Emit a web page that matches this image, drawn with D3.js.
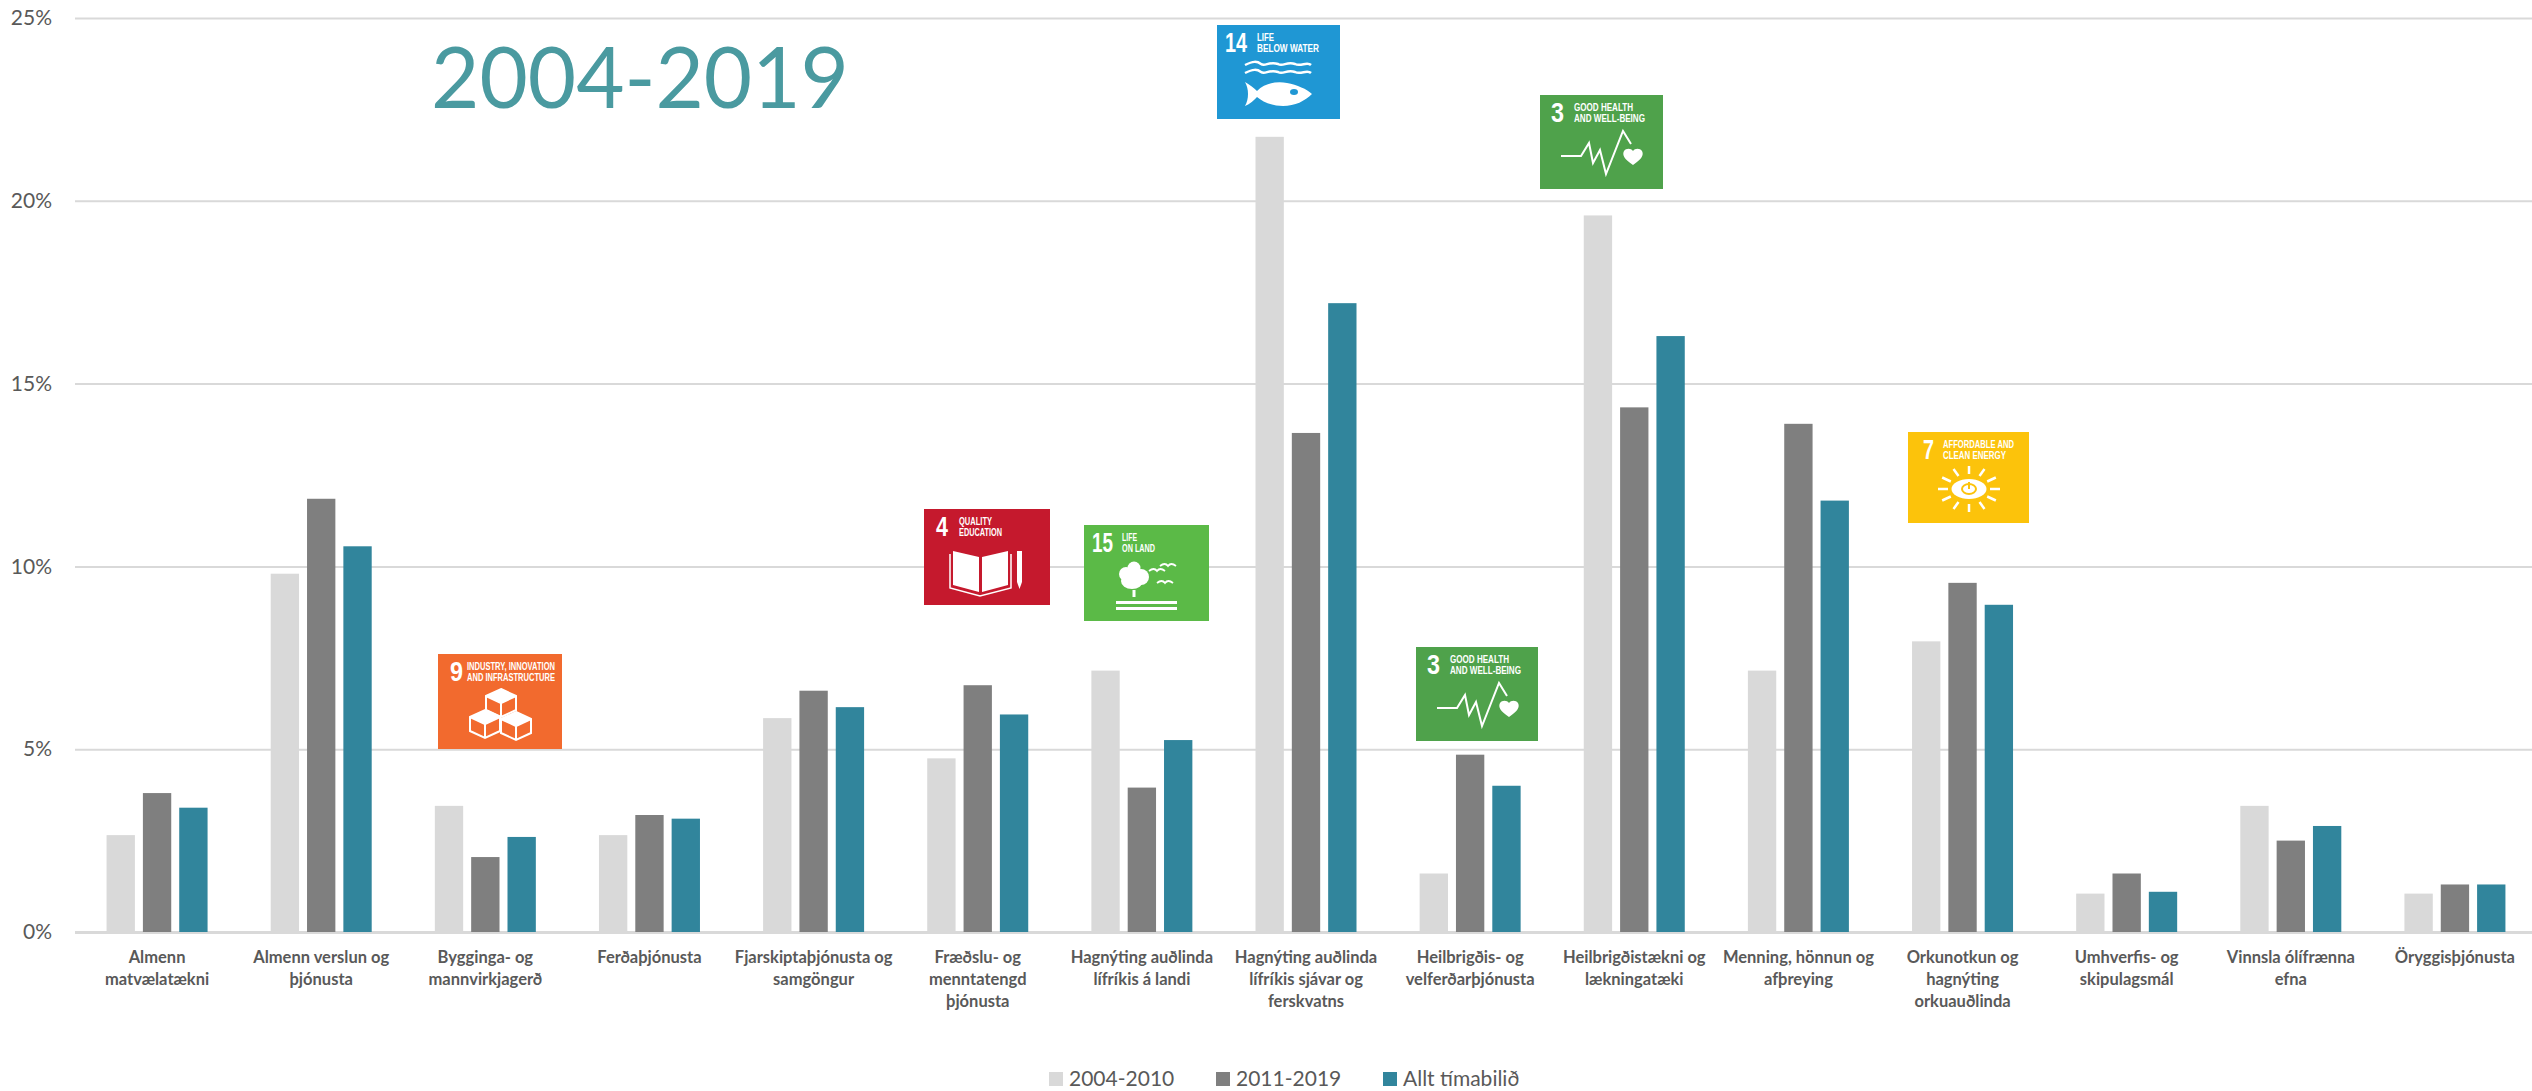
<!DOCTYPE html>
<html>
<head>
<meta charset="utf-8">
<script src="https://cdnjs.cloudflare.com/ajax/libs/d3/7.8.5/d3.min.js"></script>
<style>
  body { margin: 0; background: #fff; overflow: hidden; }
  text { font-family: Lato, sans-serif; }
  .badge text { font-family: "Liberation Sans", sans-serif; font-weight: 700; fill: #fff; }
</style>
</head>
<body>
<div id="chart"></div>
<script>
// chart data
var categories = [
  "Almenn\nmatvælatækni",
  "Almenn verslun og\nþjónusta",
  "Bygginga- og\nmannvirkjagerð",
  "Ferðaþjónusta",
  "Fjarskiptaþjónusta og\nsamgöngur",
  "Fræðslu- og\nmenntatengd\nþjónusta",
  "Hagnýting auðlinda\nlífríkis á landi",
  "Hagnýting auðlinda\nlífríkis sjávar og\nferskvatns",
  "Heilbrigðis- og\nvelferðarþjónusta",
  "Heilbrigðistækni og\nlækningatæki",
  "Menning, hönnun og\nafþreying",
  "Orkunotkun og\nhagnýting\norkuauðlinda",
  "Umhverfis- og\nskipulagsmál",
  "Vinnsla ólífrænna\nefna",
  "Öryggisþjónusta"
];
var seriesNames = ["2004-2010", "2011-2019", "Allt tímabilið"];
var values2004 = [2.65, 9.8, 3.45, 2.65, 5.85, 4.75, 7.15, 21.75, 1.6, 19.6, 7.15, 7.95, 1.05, 3.45, 1.05];
var values2011 = [3.8, 11.85, 2.05, 3.2, 6.6, 6.75, 3.95, 13.65, 4.85, 14.35, 13.9, 9.55, 1.6, 2.5, 1.3];
var valuesAll = [3.4, 10.55, 2.6, 3.1, 6.15, 5.95, 5.25, 17.2, 4.0, 16.3, 11.8, 8.95, 1.1, 2.9, 1.3];
var yTicks = [0, 5, 10, 15, 20, 25];
var chartTitle = "2004-2019";

var seriesValues = [values2004, values2011, valuesAll];
var seriesColors = ["#d9d9d9", "#7f7f7f", "#31859c"];

var svgWidth = 2532;
var svgHeight = 1091;
var chartMargin = { top: 18, right: -5, bottom: 159, left: 75 };
var chartWidth = svgWidth - chartMargin.left - chartMargin.right;
var chartHeight = svgHeight - chartMargin.top - chartMargin.bottom;

var svg = d3.select("#chart")
  .append("svg")
  .attr("width", svgWidth)
  .attr("height", svgHeight);

var chartGroup = svg.append("g")
  .attr("transform", `translate(${chartMargin.left}, ${chartMargin.top})`);

var xScale = d3.scaleBand().domain(categories).range([0, chartWidth]);
var xInner = d3.scaleBand().domain(seriesNames)
  .range([xScale.bandwidth() / 2 - 50.5, xScale.bandwidth() / 2 + 50.5])
  .paddingInner(0.22);
var yScale = d3.scaleLinear().domain([0, 25]).range([chartHeight, 0]);

// gridlines and y labels
var leftAxis = d3.axisLeft(yScale)
  .tickValues(yTicks)
  .tickSize(-chartWidth)
  .tickPadding(23)
  .tickFormat(d => d + "%");

var yAxisGroup = chartGroup.append("g").call(leftAxis);
yAxisGroup.select(".domain").remove();
yAxisGroup.selectAll("line")
  .attr("stroke", "#d9d9d9")
  .attr("stroke-width", d => d === 0 ? 3 : 2);
yAxisGroup.selectAll("text")
  .attr("font-size", 21)
  .attr("fill", "#595959")
  .style("font-family", "Lato, sans-serif");

// bars
var barGroups = chartGroup.selectAll(".group")
  .data(categories)
  .enter()
  .append("g")
  .attr("class", "group")
  .attr("transform", d => `translate(${xScale(d)}, 0)`);

barGroups.selectAll("rect")
  .data((d, i) => seriesNames.map((name, s) => ({ name: name, value: seriesValues[s][i], color: seriesColors[s] })))
  .enter()
  .append("rect")
  .attr("x", d => xInner(d.name))
  .attr("y", d => yScale(d.value))
  .attr("width", xInner.bandwidth())
  .attr("height", d => chartHeight - yScale(d.value))
  .attr("fill", d => d.color);

// category labels
var bottomAxis = d3.axisBottom(xScale).tickSize(0).tickFormat("");
var xAxisGroup = chartGroup.append("g")
  .attr("transform", `translate(0, ${chartHeight})`)
  .call(bottomAxis);
xAxisGroup.select(".domain").remove();
xAxisGroup.selectAll(".tick text").each(function(d) {
  var label = d3.select(this)
    .attr("y", 31)
    .attr("text-anchor", "middle")
    .attr("font-size", 16.5)
    .attr("font-weight", 700)
    .attr("fill", "#595959")
    .style("font-family", "Lato, sans-serif");
  d.split("\n").forEach(function(line, i) {
    label.append("tspan").attr("x", 0).attr("y", 31 + i * 22).attr("dy", 0).text(line);
  });
});

// title
svg.append("text")
  .attr("x", 431)
  .attr("y", 108)
  .attr("font-size", 86)
  .attr("fill", "#4a9aa0")
  .attr("textLength", 418)
  .attr("lengthAdjust", "spacingAndGlyphs")
  .text(chartTitle);

// legend
var legendX = [1049, 1216, 1383];
var legend = svg.selectAll(".legend")
  .data(seriesNames)
  .enter()
  .append("g")
  .attr("class", "legend")
  .attr("transform", (d, i) => `translate(${legendX[i]}, 1072)`);
legend.append("rect")
  .attr("width", 14)
  .attr("height", 14)
  .attr("fill", (d, i) => seriesColors[i]);
legend.append("text")
  .attr("x", 20)
  .attr("y", 14)
  .attr("font-size", 21)
  .attr("fill", "#595959")
  .text(d => d);

// SDG badges, drawn in a local box
function drawPulse(g) {
  g.append("path")
    .attr("d", "M21 61H41L49 48L53 68L60 55L66 79L83 36L91 49")
    .attr("fill", "none").attr("stroke", "#fff").attr("stroke-width", 2);
  g.append("path")
    .attr("d", "M93 70C84 64 82 60 84 56C86 53 91 53 93 56C95 53 100 53 102 56C104 60 102 64 93 70Z")
    .attr("fill", "#fff");
}
function drawFish(g) {
  g.append("path")
    .attr("d", "M28 40C36 36 40 36 44 39C48 42 52 36 61 39C66 42 70 36 78 39C84 42 90 36 94 40M28 48C36 44 40 44 44 47C48 50 52 44 61 47C66 50 70 44 78 47C84 50 90 44 94 48")
    .attr("fill", "none").attr("stroke", "#fff").attr("stroke-width", 2.5);
  g.append("path")
    .attr("d", "M28 57C33 60 37 63 40 66C48 58 60 56 70 58C80 60 90 64 95 69C88 76 78 81 66 81C55 81 46 77 40 72C37 75 33 79 28 81C32 74 32 64 28 57Z")
    .attr("fill", "#fff");
  g.append("ellipse").attr("cx", 77).attr("cy", 67).attr("rx", 4).attr("ry", 3).attr("fill", "#1f97d4");
}
function drawCubes(g) {
  [[63, 35], [47, 56], [78, 58]].forEach(function(c) {
    var x = c[0], y = c[1];
    g.append("path")
      .attr("d", `M${x} ${y}L${x + 15} ${y + 7}V${y + 21}L${x} ${y + 28}L${x - 15} ${y + 21}V${y + 7}ZM${x} ${y + 14}L${x + 15} ${y + 7}M${x} ${y + 14}L${x - 15} ${y + 7}M${x} ${y + 14}V${y + 28}`)
      .attr("fill", "none").attr("stroke", "#fff").attr("stroke-width", 2);
    g.append("path")
      .attr("d", `M${x} ${y}L${x + 15} ${y + 7}L${x} ${y + 14}L${x - 15} ${y + 7}Z`)
      .attr("fill", "#fff");
  });
}
function drawSun(g) {
  var cx = 61, cy = 57;
  d3.range(12).forEach(function(i) {
    var a = i * Math.PI / 6;
    g.append("line")
      .attr("x1", cx + 21 * Math.cos(a)).attr("y1", cy + 15 * Math.sin(a))
      .attr("x2", cx + 31 * Math.cos(a)).attr("y2", cy + 23 * Math.sin(a))
      .attr("stroke", "#fff").attr("stroke-width", 2.5);
  });
  g.append("ellipse").attr("cx", cx).attr("cy", cy).attr("rx", 17.5).attr("ry", 10).attr("fill", "#fff");
  g.append("ellipse").attr("cx", cx).attr("cy", cy).attr("rx", 7).attr("ry", 5).attr("fill", "none").attr("stroke", "#fcc30b").attr("stroke-width", 2);
  g.append("line").attr("x1", cx).attr("y1", cy - 7).attr("x2", cx).attr("y2", cy).attr("stroke", "#fcc30b").attr("stroke-width", 2);
}
function drawBook(g) {
  g.append("path")
    .attr("d", "M29 42L55 48V83L29 76ZM84 42L58 48V83L84 76Z")
    .attr("fill", "#fff");
  g.append("path")
    .attr("d", "M26 45V79L56 87L87 79V45")
    .attr("fill", "none").attr("stroke", "#fff").attr("stroke-width", 1.5);
  g.append("path").attr("d", "M93 42H98V73L95.5 80L93 73Z").attr("fill", "#fff");
}
function drawTree(g) {
  g.append("circle").attr("cx", 50).attr("cy", 43).attr("r", 6.5).attr("fill", "#fff");
  g.append("circle").attr("cx", 42).attr("cy", 49).attr("r", 7).attr("fill", "#fff");
  g.append("circle").attr("cx", 57).attr("cy", 52).attr("r", 8).attr("fill", "#fff");
  g.append("ellipse").attr("cx", 48).attr("cy", 56).attr("rx", 11).attr("ry", 8).attr("fill", "#fff");
  g.append("rect").attr("x", 48.5).attr("y", 65).attr("width", 3).attr("height", 7).attr("fill", "#fff");
  g.append("rect").attr("x", 32).attr("y", 76).attr("width", 61).attr("height", 3).attr("fill", "#fff");
  g.append("rect").attr("x", 32).attr("y", 82).attr("width", 61).attr("height", 3).attr("fill", "#fff");
  [[73, 45], [84, 40], [81, 57]].forEach(function(b) {
    g.append("path")
      .attr("d", `M${b[0] - 8} ${b[1] + 1}Q${b[0] - 3} ${b[1] - 3} ${b[0]} ${b[1] + 1}Q${b[0] + 3} ${b[1] - 3} ${b[0] + 8} ${b[1] + 1}`)
      .attr("fill", "none").attr("stroke", "#fff").attr("stroke-width", 1.8);
  });
}

var badges = [
  { x: 438, y: 654, w: 124, h: 95, color: "#f26a2e", num: "9", numX: 12, numW: 13, textX: 29, lines: ["INDUSTRY, INNOVATION", "AND INFRASTRUCTURE"], widths: [88, 88], draw: drawCubes },
  { x: 924, y: 509, w: 126, h: 96, color: "#c5192d", num: "4", numX: 12, numW: 12, textX: 35, lines: ["QUALITY", "EDUCATION"], widths: [33, 43], draw: drawBook },
  { x: 1084, y: 525, w: 125, h: 96, color: "#5bba47", num: "15", numX: 8, numW: 21, textX: 38, lines: ["LIFE", "ON LAND"], widths: [15, 33], draw: drawTree },
  { x: 1217, y: 25, w: 123, h: 94, color: "#1f97d4", num: "14", numX: 8, numW: 22, textX: 40, lines: ["LIFE", "BELOW WATER"], widths: [17, 62], draw: drawFish },
  { x: 1416, y: 647, w: 122, h: 94, color: "#4fa24b", num: "3", numX: 11, numW: 13, textX: 34, lines: ["GOOD HEALTH", "AND WELL-BEING"], widths: [59, 71], draw: drawPulse },
  { x: 1540, y: 95, w: 123, h: 94, color: "#4fa24b", num: "3", numX: 11, numW: 13, textX: 34, lines: ["GOOD HEALTH", "AND WELL-BEING"], widths: [59, 71], draw: drawPulse },
  { x: 1908, y: 432, w: 121, h: 91, color: "#fcc30b", num: "7", numX: 15, numW: 11, textX: 35, lines: ["AFFORDABLE AND", "CLEAN ENERGY"], widths: [71, 63], draw: drawSun }
];

var badgeGroups = svg.selectAll(".badge")
  .data(badges)
  .enter()
  .append("g")
  .attr("class", "badge")
  .attr("transform", d => `translate(${d.x}, ${d.y})`);

badgeGroups.append("rect")
  .attr("width", d => d.w)
  .attr("height", d => d.h)
  .attr("fill", d => d.color);
badgeGroups.append("text")
  .attr("x", d => d.numX)
  .attr("y", 27)
  .attr("font-size", 27)
  .attr("textLength", d => d.numW)
  .attr("lengthAdjust", "spacingAndGlyphs")
  .text(d => d.num);
badgeGroups.each(function(d) {
  var g = d3.select(this);
  d.lines.forEach(function(line, i) {
    g.append("text")
      .attr("x", d.textX)
      .attr("y", 16 + i * 11)
      .attr("font-size", 11)
      .attr("textLength", d.widths[i])
      .attr("lengthAdjust", "spacingAndGlyphs")
      .text(line);
  });
  d.draw(g);
});
</script>
</body>
</html>
